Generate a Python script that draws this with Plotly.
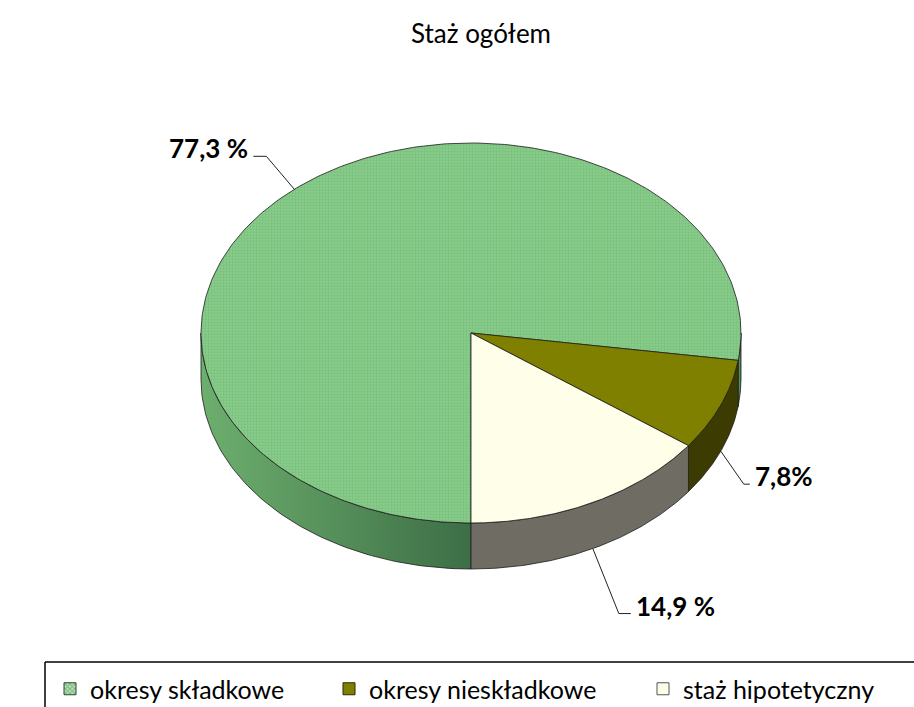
import numpy as np
import plotly.graph_objects as go

# ---------------- data ----------------
chart_title = "Staż ogółem"
categories = ["okresy składkowe", "okresy nieskładkowe", "staż hipotetyczny"]
values = [77.3, 7.8, 14.9]
value_labels = ["77,3 %", "7,8%", "14,9 %"]

# ---------------- style / layout constants ----------------
W, H = 914, 707
FONT = "Lato"
top_colors = ["#80C682", "#808000", "#FFFEE9"]
side_colors = ["#5E9C60", "#3C3C02", "#6F6D63"]
edge = "#1c1c1c"
cx, cy, rx, ry, depth = 471, 333, 270, 190, 46
start_angle = 180.0          # compass degrees, 6 o'clock, clockwise
# leader geometry per label: elbow offset from anchor, horizontal tail length
lead_dx = [-28, 23, 26]
lead_dy = [-33, 33, 65]
tail = [-13, 6, 12]
legend_x_px = [50, 329, 643]
legend_y_px = 689
legend_box_left = 45
legend_box_top = 662

def pt(theta, dz=0.0):
    t = np.radians(theta)
    return cx + rx * np.sin(t), cy - ry * np.cos(t) + dz

total = float(sum(values))
angles = [start_angle]
for v in values:
    angles.append(angles[-1] + 360.0 * v / total)

fig = go.Figure()

# ---- side walls (front half only) ----
for i in range(len(values)):
    a0, a1 = angles[i], angles[i + 1]
    for k in range(-1, 3):
        s = max(a0, 90 + 360 * k)
        e = min(a1, 270 + 360 * k)
        if e - s <= 0.01:
            continue
        t = np.linspace(s, e, 80)
        xt, yt = pt(t)
        xb, yb = pt(t[::-1], depth)
        xs = np.concatenate([xt, xb, xt[:1]])
        ys = np.concatenate([yt, yb, yt[:1]])
        kw = {}
        if i == 0:
            kw["fillgradient"] = dict(type="horizontal",
                                      colorscale=[[0, "#6DAF6E"], [1, "#3D6E46"]])
        fig.add_trace(go.Scatter(x=xs, y=ys, mode="lines", fill="toself",
                                 fillcolor=side_colors[i],
                                 line=dict(color=edge, width=0.8),
                                 hoverinfo="skip", showlegend=False, **kw))

# ---- top faces ----
for i in range(len(values)):
    a0, a1 = angles[i], angles[i + 1]
    t = np.linspace(a0, a1, 300)
    xa, ya = pt(t)
    xs = np.concatenate([[cx], xa, [cx]])
    ys = np.concatenate([[cy], ya, [cy]])
    kw = {}
    if i == 0:
        kw["fillpattern"] = dict(shape=".", size=3, solidity=0.45,
                                 fgcolor="#6BB16E", bgcolor="#8ACD8C")
    fig.add_trace(go.Scatter(x=xs, y=ys, mode="lines", fill="toself",
                             fillcolor=top_colors[i],
                             line=dict(color=edge, width=0.8),
                             name=categories[i], text=[value_labels[i]] * len(xs),
                             hoverinfo="name+text", showlegend=False, **kw))

# ---- leaders + labels ----
for i in range(len(values)):
    mid = (angles[i] + angles[i + 1]) / 2.0
    front = (mid % 360) > 90 and (mid % 360) < 270
    ax, ay = pt(mid, depth if front else 0.0)
    ex, ey = ax + lead_dx[i], ay + lead_dy[i]
    tx = ex + tail[i]
    fig.add_trace(go.Scatter(x=[ax, ex, tx], y=[ay, ey, ey], mode="lines",
                             line=dict(color="#222222", width=1),
                             hoverinfo="skip", showlegend=False))
    right = tail[i] < 0
    fig.add_annotation(x=tx + (-3 if right else 3), y=ey - 8, xref="x", yref="y",
                       text="<b>%s</b>" % value_labels[i], showarrow=False,
                       xanchor="right" if right else "left", yanchor="middle",
                       font=dict(family=FONT, size=26, color="#000000"))

# ---- legend entries (bar-style square icons) ----
legend_names = ["legend", "legend2", "legend3"]
icon_lines = ["#2a4a2a", "#2a2a00", "#555555"]
icon_patterns = [dict(shape="x", size=4, solidity=0.5, fgcolor="#3F7F45", bgcolor="#B8E3B8"),
                 dict(shape=""), dict(shape="")]
for i in range(len(values)):
    fig.add_trace(go.Bar(x=[None], y=[None], name=categories[i],
                         marker=dict(color=top_colors[i], pattern=icon_patterns[i],
                                     line=dict(color=icon_lines[i], width=1)),
                         legend=legend_names[i], showlegend=True, hoverinfo="skip"))

leg_common = dict(orientation="h", yanchor="middle", xanchor="left",
                  bgcolor="rgba(0,0,0,0)", itemwidth=30,
                  font=dict(family=FONT, size=25, color="#000000"))
legend_layout = {}
for i, ln in enumerate(legend_names):
    legend_layout[ln] = dict(x=legend_x_px[i] / W, y=1 - legend_y_px / H, **leg_common)

fig.update_layout(
    width=W, height=H,
    margin=dict(l=0, r=0, t=0, b=0, autoexpand=False),
    paper_bgcolor="white", plot_bgcolor="white",
    title=dict(text=chart_title, x=481 / W, y=1 - 34 / H, xanchor="center",
               yanchor="middle", xref="paper", yref="paper",
               font=dict(family=FONT, size=26, color="#000000")),
    xaxis=dict(range=[0, W], visible=False, fixedrange=True, domain=[0, 1]),
    yaxis=dict(range=[H, 0], visible=False, fixedrange=True, domain=[0, 1]),
    shapes=[
        dict(type="line", xref="x", yref="y", x0=legend_box_left, x1=W + 5,
             y0=legend_box_top, y1=legend_box_top, line=dict(color="#000000", width=1.5)),
        dict(type="line", xref="x", yref="y", x0=legend_box_left, x1=legend_box_left,
             y0=legend_box_top, y1=H + 5, line=dict(color="#000000", width=1.5)),
    ],
    **legend_layout,
)

fig.write_html("out.html", config={"displayModeBar": False},
               post_script="document.body.style.margin='0';")
